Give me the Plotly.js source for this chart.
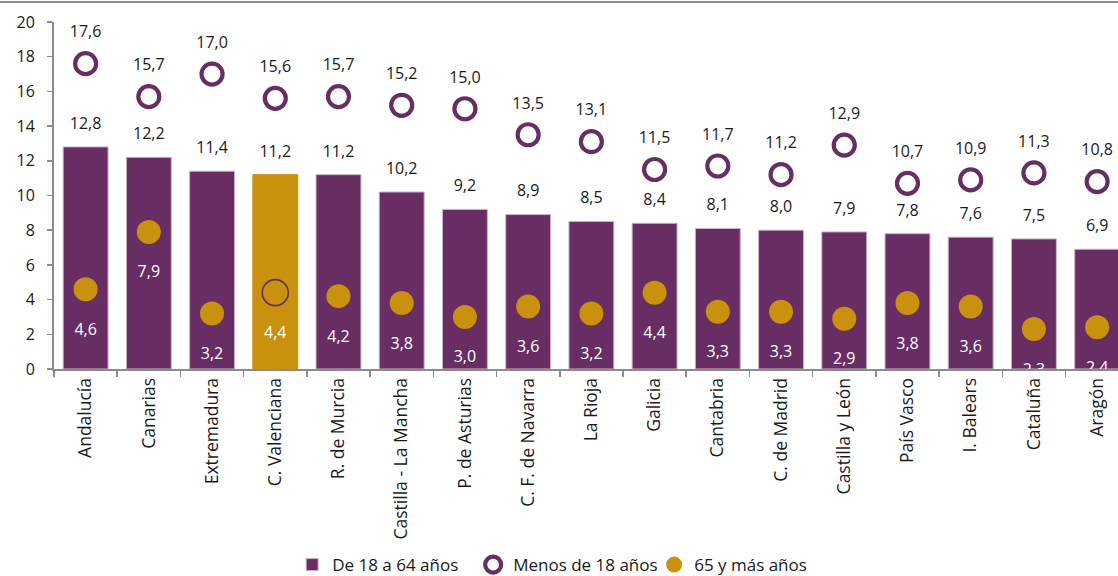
<!DOCTYPE html>
<html>
<head>
<meta charset="utf-8">
<script src="https://cdn.plot.ly/plotly-3.0.1.min.js"></script>
<style>
  html, body { margin: 0; padding: 0; background: #fff; }
  #wrap { position: relative; width: 1118px; height: 576px; overflow: hidden; }
  #topline { position: absolute; left: 0; top: 1px; width: 1118px; height: 2px; background: #8c8c8c; }
  #chart { position: absolute; left: 0; top: 0; width: 1118px; height: 576px; }
</style>
</head>
<body>
<div id="wrap">
  <div id="chart"></div>
  <div id="topline"></div>
</div>
<script>
const categories = ["Andalucía", "Canarias", "Extremadura", "C. Valenciana", "R. de Murcia",
  "Castilla - La Mancha", "P. de Asturias", "C. F. de Navarra", "La Rioja", "Galicia",
  "Cantabria", "C. de Madrid", "Castilla y León", "País Vasco", "I. Balears", "Cataluña", "Aragón"];
const adults18to64 = [12.8, 12.2, 11.4, 11.2, 11.2, 10.2, 9.2, 8.9, 8.5, 8.4, 8.1, 8.0, 7.9, 7.8, 7.6, 7.5, 6.9];
const under18 = [17.6, 15.7, 17.0, 15.6, 15.7, 15.2, 15.0, 13.5, 13.1, 11.5, 11.7, 11.2, 12.9, 10.7, 10.9, 11.3, 10.8];
const over65 = [4.6, 7.9, 3.2, 4.4, 4.2, 3.8, 3.0, 3.6, 3.2, 4.4, 3.3, 3.3, 2.9, 3.8, 3.6, 2.3, 2.4];
const highlighted = "C. Valenciana";
const seriesNames = ["De 18 a 64 años", "Menos de 18 años", "65 y más años"];
const yTicks = [0, 2, 4, 6, 8, 10, 12, 14, 16, 18, 20];

const PURPLE = "#682e63";
const GOLD = "#c9910e";
const FONT = "Open Sans, Noto Sans, sans-serif";
const TXT = "#1a1a1a";
const fmt = v => v.toFixed(1).replace(".", ",");
const isHi = categories.map(c => c === highlighted);

const traces = [
  {
    type: "bar", name: seriesNames[0], x: categories, y: adults18to64,
    marker: {
      color: isHi.map(h => h ? GOLD : PURPLE),
      line: { color: isHi.map(h => h ? GOLD : "#c9b3c7"), width: 1 }
    },
    hoverinfo: "skip"
  },
  {
    type: "scatter", mode: "markers", name: seriesNames[1], x: categories, y: under18,
    marker: { symbol: "circle-open", size: 21, color: PURPLE, opacity: 1, line: { width: 4.2 } },
    hoverinfo: "skip"
  },
  {
    type: "scatter", mode: "markers", name: seriesNames[2], x: categories, y: over65,
    marker: {
      symbol: isHi.map(h => h ? "circle-open" : "circle"),
      size: isHi.map(h => h ? 26 : 24),
      color: isHi.map(h => h ? PURPLE : GOLD),
      opacity: 1,
      line: { width: isHi.map(h => h ? 1.6 : 0) }
    },
    hoverinfo: "skip"
  },
  // data labels (invisible markers set the pixel offset of the text)
  {
    type: "scatter", mode: "markers+text", x: categories, y: adults18to64,
    text: adults18to64.map(fmt), textposition: "top center",
    textfont: { family: FONT, size: 16, color: TXT },
    marker: { size: 21, opacity: 0 }, showlegend: false, hoverinfo: "skip", cliponaxis: true
  },
  {
    type: "scatter", mode: "markers+text", x: categories, y: under18,
    text: under18.map(fmt), textposition: "top center",
    textfont: { family: FONT, size: 16, color: TXT },
    marker: { size: 34, opacity: 0 }, showlegend: false, hoverinfo: "skip", cliponaxis: true
  },
  {
    type: "scatter", mode: "markers+text", x: categories, y: over65,
    text: over65.map(fmt), textposition: "bottom center",
    textfont: { family: FONT, size: 16, color: "#ffffff" },
    marker: { size: 52, opacity: 0 }, showlegend: false, hoverinfo: "skip", cliponaxis: true
  }
];

const layout = {
  width: 1118, height: 576,
  margin: { l: 54, r: 0, t: 22, b: 207, pad: 0, autoexpand: false },
  paper_bgcolor: "#ffffff", plot_bgcolor: "#ffffff",
  font: { family: FONT, size: 16, color: TXT },
  bargap: 0.29,
  showlegend: true,
  legend: {
    orientation: "h", x: 0.479, xanchor: "center", y: -0.565, yanchor: "middle",
    font: { family: FONT, size: 17, color: TXT },
    itemwidth: 30, entrywidth: 136, traceorder: "normal", bgcolor: "rgba(0,0,0,0)"
  },
  xaxis: {
    type: "category", range: [-0.5, 16.33], tickangle: -90,
    tickson: "boundaries", ticks: "outside", ticklen: 6, tickcolor: "#8c8c8c", tickwidth: 1.5,
    showline: true, linecolor: "#8c8c8c", linewidth: 2,
    showgrid: false, zeroline: false, fixedrange: true,
    tickfont: { family: FONT, size: 17.5, color: TXT }
  },
  yaxis: {
    range: [0, 20], tickvals: yTicks, ticktext: yTicks.map(String),
    ticks: "outside", ticklen: 5, tickcolor: "#8c8c8c", tickwidth: 1.5,
    showline: true, linecolor: "#8c8c8c", linewidth: 2,
    showgrid: false, zeroline: false, fixedrange: true, ticklabelstandoff: 9,
    tickfont: { family: FONT, size: 16, color: TXT }
  }
};

Plotly.newPlot("chart", traces, layout, { displayModeBar: false, staticPlot: true });
</script>
</body>
</html>
